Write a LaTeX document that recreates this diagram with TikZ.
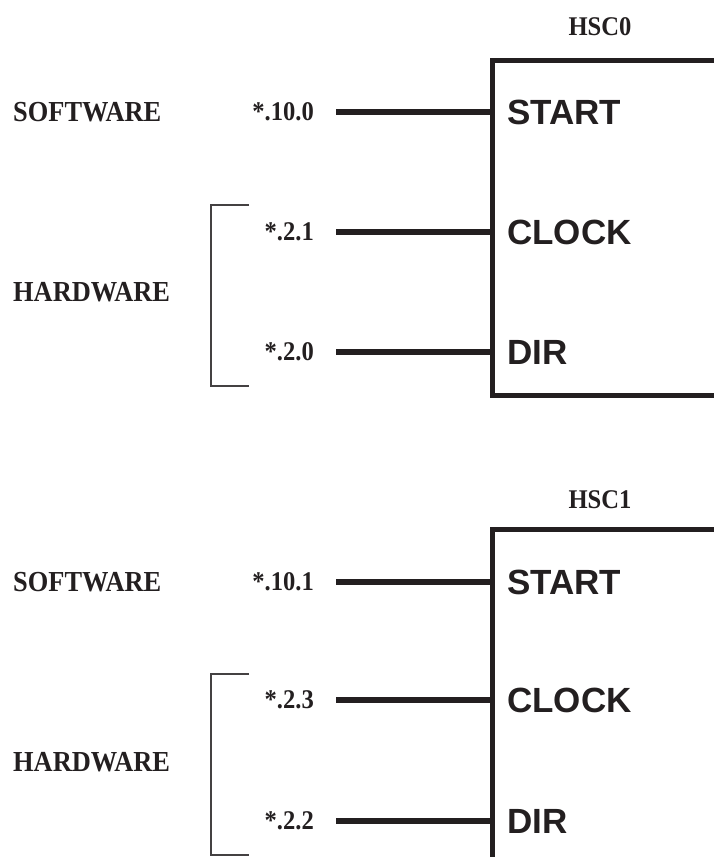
\documentclass[tikz,border=0pt]{standalone}
\usepackage{fontspec}
\setmainfont{Liberation Serif}
\setsansfont{Liberation Sans}
\newfontfamily\narrowserif[FakeStretch=0.91]{Liberation Serif}
\usetikzlibrary{positioning}
\definecolor{ink}{HTML}{231F20}

\begin{document}
\begin{tikzpicture}[x=1pt, y=-1pt, color=ink]
    \tikzset{
        side label/.style={font=\narrowserif\bfseries\fontsize{29}{30}\selectfont, inner sep=0pt, anchor=west},
        addr label/.style={font=\narrowserif\bfseries\fontsize{27}{28}\selectfont, inner sep=0pt, anchor=east},
        pin label/.style={font=\sffamily\bfseries\fontsize{35}{36}\selectfont, inner sep=0pt, anchor=west},
        title label/.style={font=\narrowserif\bfseries\fontsize{27}{28}\selectfont, inner sep=0pt},
        counter box/.style={draw, line width=5pt, outer sep=0pt, inner sep=0pt, anchor=north west, minimum width=260pt},
        wire/.style={line width=5.5pt},
        bracket/.style={line width=1.3pt, ink!85}
    }
    \clip (0,0) rectangle (714,857);

    % First counter (HSC0)
    \node[title label] (title0) at (600, 27) {HSC0};
    \node[counter box, minimum height=334.5pt] (box0) at (492.5, 60.5) {};
    \node[pin label] (start0) at (507, 112) {START};
    \node[pin label] (clock0) at (507, 232) {CLOCK};
    \node[pin label] (dir0) at (507, 352) {DIR};

    % Input addresses of HSC0
    \node[addr label] (in0s) at (314, 112) {*.10.0};
    \node[addr label] (in0c) at (314, 232) {*.2.1};
    \node[addr label] (in0d) at (314, 352) {*.2.0};

    % Wires into HSC0
    \draw[wire] ([xshift=22pt]in0s.east) -- (in0s -| box0.west);
    \draw[wire] ([xshift=22pt]in0c.east) -- (in0c -| box0.west);
    \draw[wire] ([xshift=22pt]in0d.east) -- (in0d -| box0.west);

    % Source labels of HSC0
    \node[side label] (soft0) at (13, 112) {SOFTWARE};
    \node[side label] (hard0) at (13, 292.5) {HARDWARE};
    \draw[bracket] (249, 205) -- (211, 205) -- (211, 386) -- (249, 386);

    % Second counter (HSC1)
    \node[title label] (title1) at (600, 499.5) {HSC1};
    \node[counter box, minimum height=400pt] (box1) at (492.5, 529) {};
    \node[pin label] (start1) at (507, 582) {START};
    \node[pin label] (clock1) at (507, 700) {CLOCK};
    \node[pin label] (dir1) at (507, 821) {DIR};

    % Input addresses of HSC1
    \node[addr label] (in1s) at (314, 582) {*.10.1};
    \node[addr label] (in1c) at (314, 700) {*.2.3};
    \node[addr label] (in1d) at (314, 821) {*.2.2};

    % Wires into HSC1
    \draw[wire] ([xshift=22pt]in1s.east) -- (in1s -| box1.west);
    \draw[wire] ([xshift=22pt]in1c.east) -- (in1c -| box1.west);
    \draw[wire] ([xshift=22pt]in1d.east) -- (in1d -| box1.west);

    % Source labels of HSC1
    \node[side label] (soft1) at (13, 582) {SOFTWARE};
    \node[side label] (hard1) at (13, 762) {HARDWARE};
    \draw[bracket] (249, 674) -- (211, 674) -- (211, 855) -- (249, 855);

\end{tikzpicture}
\end{document}
